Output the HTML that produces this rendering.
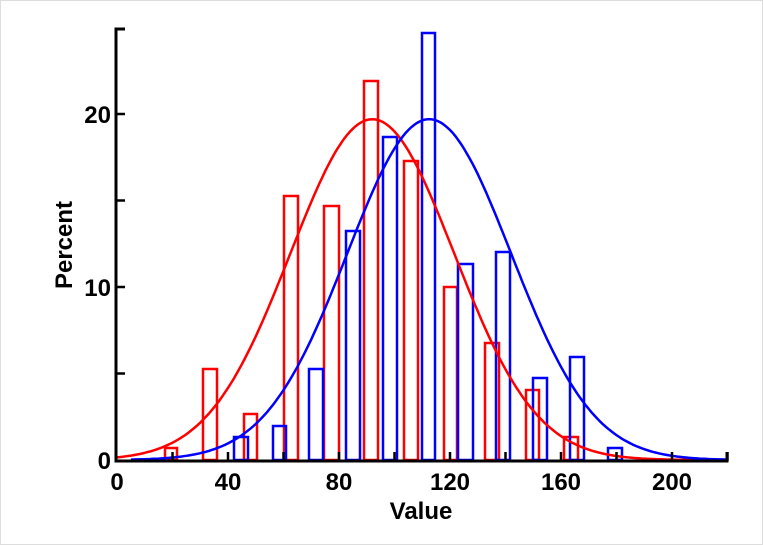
<!DOCTYPE html>
<html><head><meta charset="utf-8"><style>
html,body{margin:0;padding:0;background:#fff;}
svg{display:block;}
text{font-family:"Liberation Sans",Arial,sans-serif;font-weight:bold;fill:#000;}
</style></head><body>
<svg id="s" width="763" height="545" viewBox="0 0 763 545" xmlns="http://www.w3.org/2000/svg">
<rect x="0.5" y="0.5" width="762" height="544" fill="#fff" stroke="#ddd"/>
<g id="bars" fill="none" stroke-width="2.5"></g>
<path id="rc" fill="none" stroke="#ff0000" stroke-width="2.5"/>
<path id="bc" fill="none" stroke="#0000ff" stroke-width="2.5"/>
<g stroke="#000" stroke-width="3" fill="none">
<path d="M125,29 H116 V461 H727 V452"/>
</g>
<g id="ticks" stroke="#000" stroke-width="2.5"></g>
<g font-size="24" text-anchor="end">
<text x="111" y="123">20</text>
<text x="111" y="296">10</text>
<text x="111" y="469">0</text>
</g>
<g font-size="24" text-anchor="middle">
<text x="117" y="490">0</text>
<text x="228" y="490">40</text>
<text x="339" y="490">80</text>
<text x="450" y="490">120</text>
<text x="561" y="490">160</text>
<text x="672" y="490">200</text>
<text x="421" y="519">Value</text>
<text transform="translate(72,245) rotate(-90)">Percent</text>
</g>
</svg>
<script>
var NS="http://www.w3.org/2000/svg";
var X=function(v){return 117+v*2.775;}, Y=function(p){return 460-p*17.3;};
var bars=document.getElementById('bars');
function bar(x1,x2,top,c){var r=document.createElementNS(NS,'rect');r.setAttribute('x',x1);r.setAttribute('y',top);r.setAttribute('width',x2-x1);r.setAttribute('height',460-top);r.setAttribute('stroke',c);bars.appendChild(r);}
[[165,177,448],[203,217,369],[244,257,414],[284,298,196],[324,339,206],[364,378,81],[404,418,161],[444,457,287],[485,499,343],[526,539,390],[564,578,437]].forEach(function(b){bar(b[0],b[1],b[2],'#ff0000');});
[[234,248,437],[273,286,426],[309,323,369],[346,360,231],[383,397,137],[422,435,33],[458,473,264],[496,510,252],[533,547,378],[570,584,357],[608,622,448]].forEach(function(b){bar(b[0],b[1],b[2],'#0000ff');});
function curve(id,mu,sd,a,b){var d='';for(var v=a;v<=b;v+=1){var p=19.7*Math.exp(-(v-mu)*(v-mu)/(2*sd*sd));d+=(d?'L':'M')+X(v).toFixed(1)+','+Y(p).toFixed(1);}document.getElementById(id).setAttribute('d',d);}
curve('rc',92,29.5,0,208);
curve('bc',112.5,29.5,5,220);
var t=document.getElementById('ticks'),d='';
[20,60,100,140,180,220,40,80,120,160,200].forEach(function(v){d+='M'+X(v)+',461V452';});
[5,10,15,20].forEach(function(p){d+='M116,'+Y(p)+'H125';});
var pth=document.createElementNS(NS,'path');pth.setAttribute('d',d);t.appendChild(pth);
</script>
</body></html>
